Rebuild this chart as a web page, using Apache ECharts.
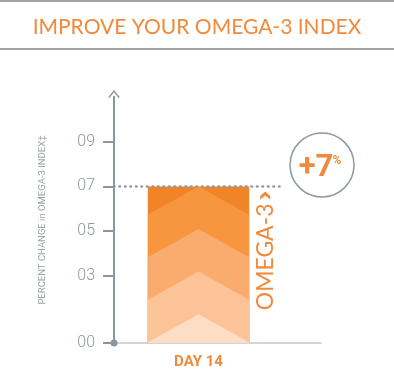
<!DOCTYPE html>
<html>
<head>
<meta charset="utf-8">
<script src="https://cdn.jsdelivr.net/npm/echarts@6/dist/echarts.min.js"></script>
<style>
html,body{margin:0;padding:0;background:#fff;}
#c{width:394px;height:373px;}
</style>
</head>
<body>
<div id="c"></div>
<script>
// ---- data ----
const titleText = 'IMPROVE YOUR OMEGA-3 INDEX';
const categories = ['DAY 14'];
const seriesName = 'OMEGA-3';
const values = [7];
const tickValues = [0, 3, 5, 7, 9];
const tickLabels = ['00', '03', '05', '07', '09'];
const yAxisName = 'PERCENT CHANGE in OMEGA-3 INDEX\u2021';
const axisMax = 11;

// ---- style ----
const ORANGE = '#F08A3C';
const AXIS_GRAY = '#8C969E';
const bandColors = ['#F28428', '#F7963F', '#F9AC6E', '#FBC396', '#FDDDC4'];

function clipBottom(poly, B) {
  const out = [];
  for (let i = 0; i < poly.length; i++) {
    const a = poly[i], b = poly[(i + 1) % poly.length];
    const ain = a[1] <= B, bin = b[1] <= B;
    if (ain) out.push(a);
    if (ain !== bin) {
      const t = (B - a[1]) / (b[1] - a[1]);
      out.push([a[0] + t * (b[0] - a[0]), B]);
    }
  }
  return out;
}

function renderItem(params, api) {
  const xi = api.value(0), v = api.value(1);
  const topPt = api.coord([xi, v]);
  const basePt = api.coord([xi, 0]);
  const bw = api.size([1, 0])[0] * 0.6;
  const L = topPt[0] - bw / 2, R = topPt[0] + bw / 2, T = topPt[1], B = basePt[1];
  const H = B - T, cx = (L + R) / 2;
  const spacing = 0.272 * H, depth = 0.18 * H;
  const children = [{ type: 'rect', shape: { x: L, y: T, width: bw, height: H }, style: { fill: bandColors[0] } }];
  for (let k = 1; k < bandColors.length; k++) {
    const apex = T + (k - 1) * spacing;
    const edge = apex + depth;
    const poly = clipBottom([[L, edge], [cx, apex], [R, edge], [R, B], [L, B]], B);
    children.push({ type: 'polygon', shape: { points: poly }, style: { fill: bandColors[k] } });
  }
  const lx = R + 16;
  children.push({
    type: 'polygon',
    shape: { points: [[lx - 5, T + 9.5], [lx, T + 5], [lx + 5, T + 9.5], [lx + 5, T + 13], [lx, T + 9], [lx - 5, T + 13]] },
    style: { fill: ORANGE }
  });
  children.push({
    type: 'text',
    x: lx, y: T + 17,
    rotation: Math.PI / 2,
    style: {
      text: seriesName,
      align: 'right', verticalAlign: 'middle',
      fontSize: 23, fontFamily: "Lato, sans-serif", fill: ORANGE
    }
  });
  return { type: 'group', children };
}

const chart = echarts.init(document.getElementById('c'));
chart.setOption({
  animation: false,
  title: {
    text: titleText, left: 'center', top: 12,
    textStyle: { color: ORANGE, fontSize: 21, fontWeight: 'normal', fontFamily: 'Lato, sans-serif' }
  },
  graphic: [
    { type: 'line', shape: { x1: 0, y1: 1, x2: 394, y2: 1 }, style: { stroke: '#858585', lineWidth: 1.5 } },
    { type: 'line', shape: { x1: 0, y1: 49, x2: 394, y2: 49 }, style: { stroke: '#858585', lineWidth: 1.5 } },
    { type: 'circle', shape: { cx: 322, cy: 165, r: 32 }, style: { fill: 'none', stroke: '#8E99A3', lineWidth: 1.5 } },
    { type: 'text', x: 316, y: 168, style: { text: '+' + values[0], align: 'center', verticalAlign: 'middle', fill: ORANGE, fontSize: 31, fontWeight: 'bold', fontFamily: 'Roboto, sans-serif' } },
    { type: 'text', x: 337, y: 161, style: { text: '%', align: 'center', verticalAlign: 'middle', fill: ORANGE, fontSize: 12, fontWeight: 'bold', fontFamily: 'Roboto, sans-serif' } }
  ],
  grid: [
    { left: 114, right: 111, top: 97, bottom: 30 },
    { left: 114, right: 73, top: 97, bottom: 30 }
  ],
  xAxis: [
    {
      gridIndex: 0, type: 'category', data: categories,
      axisLine: { show: false }, axisTick: { show: false },
      axisLabel: { margin: 12, color: ORANGE, fontSize: 15, fontWeight: 'bold', fontFamily: 'Roboto, sans-serif' }
    },
    {
      gridIndex: 1, type: 'value', min: 0, max: 1,
      axisLine: { show: true, lineStyle: { color: '#C3C8CC', width: 1.5 } },
      axisTick: { show: false }, axisLabel: { show: false }, splitLine: { show: false }
    }
  ],
  yAxis: [
    {
      gridIndex: 0, type: 'value', min: 0, max: axisMax, z: 4,
      name: yAxisName, nameLocation: 'middle', nameGap: 66, nameRotate: 90,
      nameTextStyle: { color: '#9AA3AA', fontSize: 9.5, fontFamily: 'Roboto, sans-serif' },
      axisLine: {
        show: true, lineStyle: { color: AXIS_GRAY, width: 2 },
        symbol: ['none', 'path://M0,8 L6.5,0 L13,8 L11.6,8.9 L6.5,2.4 L1.4,8.9 Z'],
        symbolSize: [13, 8], symbolOffset: [0, 3]
      },
      axisTick: { show: true, customValues: tickValues, length: 11, lineStyle: { color: AXIS_GRAY, width: 2 } },
      axisLabel: {
        customValues: tickValues, margin: 19, color: '#8F99A1', fontSize: 16, fontWeight: 300, fontFamily: 'Roboto, sans-serif',
        formatter: (v) => tickLabels[tickValues.indexOf(v)]
      },
      splitLine: { show: false }
    },
    {
      gridIndex: 1, type: 'value', min: 0, max: axisMax, z: 5,
      axisLine: { show: true, lineStyle: { color: AXIS_GRAY, width: 2 }, symbol: ['circle', 'none'], symbolSize: [7, 7] },
      axisTick: { show: false }, axisLabel: { show: false }, splitLine: { show: false }
    }
  ],
  series: [{
    type: 'custom', name: seriesName, xAxisIndex: 0, yAxisIndex: 0,
    renderItem: renderItem,
    encode: { x: 0, y: 1 },
    data: values.map((v, i) => [i, v]),
    z: 2,
    markLine: {
      silent: true, symbol: ['none', 'none'], label: { show: false }, z: 5,
      lineStyle: { color: '#8D99A5', type: [0.5, 5], width: 2.6, cap: 'round' },
      data: [{ yAxis: values[0] }]
    }
  }]
});
</script>
</body>
</html>
